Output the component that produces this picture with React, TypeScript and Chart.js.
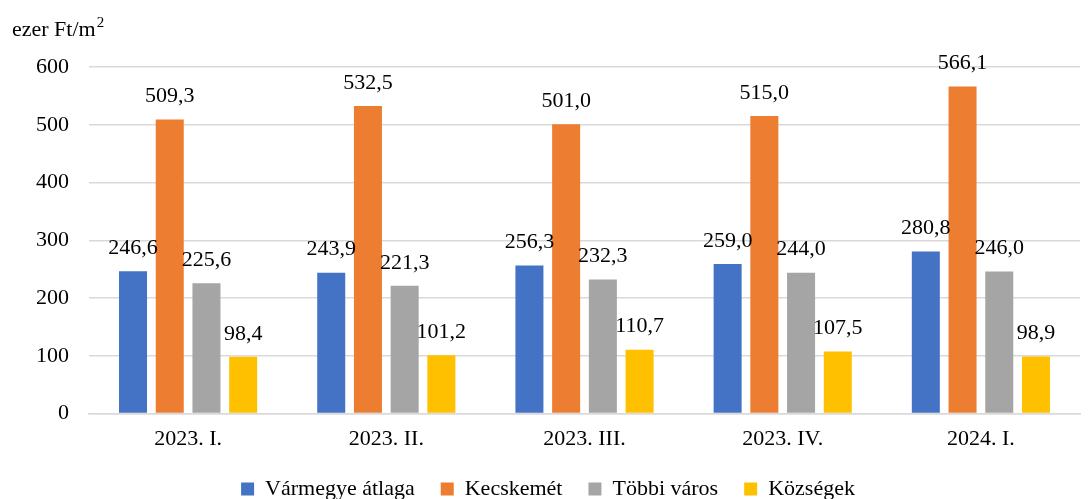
import React, { useEffect, useRef } from "react";
import { Chart, registerables } from "chart.js";

Chart.register(...registerables);

const categories = ["2023. I.", "2023. II.", "2023. III.", "2023. IV.", "2024. I."];
const seriesNames = ["Vármegye átlaga", "Kecskemét", "Többi város", "Községek"];
const varmegye = [246.6, 243.9, 256.3, 259.0, 280.8];
const kecskemet = [509.3, 532.5, 501.0, 515.0, 566.1];
const tobbiVaros = [225.6, 221.3, 232.3, 244.0, 246.0];
const kozsegek = [98.4, 101.2, 110.7, 107.5, 98.9];
const colors = ["#4472C4", "#ED7D31", "#A5A5A5", "#FFC000"];
const yTitleBase = "ezer Ft/m";
const yTitleSup = "2";

const FONT = "'Liberation Serif', 'DejaVu Serif', serif";
const FS = 22;

const labelPlugin = {
  id: "valueLabels",
  afterDatasetsDraw(chart: any) {
    const ctx = chart.ctx;
    ctx.save();
    ctx.font = `${FS}px ${FONT}`;
    ctx.fillStyle = "#000";
    ctx.textAlign = "center";
    ctx.textBaseline = "middle";
    chart.data.datasets.forEach((ds: any, i: number) => {
      const meta = chart.getDatasetMeta(i);
      meta.data.forEach((bar: any, j: number) => {
        const v = ds.data[j] as number;
        const txt = v.toFixed(1).replace(".", ",");
        ctx.fillText(txt, bar.x, bar.y - 23);
      });
    });
    ctx.restore();
  },
};

const titlePlugin = {
  id: "yTitle",
  afterDraw(chart: any) {
    const ctx = chart.ctx;
    ctx.save();
    ctx.font = `${FS}px ${FONT}`;
    ctx.fillStyle = "#000";
    ctx.textAlign = "left";
    ctx.textBaseline = "alphabetic";
    const baseY = 36;
    ctx.fillText(yTitleBase, 12, baseY);
    const w = ctx.measureText(yTitleBase).width;
    ctx.font = `15px ${FONT}`;
    ctx.fillText(yTitleSup, 12 + w + 1, baseY - 9);
    ctx.restore();
  },
};

export default function App() {
  const ref = useRef<HTMLCanvasElement | null>(null);
  useEffect(() => {
    if (!ref.current) return;
    const data = [varmegye, kecskemet, tobbiVaros, kozsegek];
    const chart = new Chart(ref.current, {
      type: "bar",
      data: {
        labels: categories,
        datasets: seriesNames.map((name, i) => ({
          label: name,
          data: data[i],
          backgroundColor: colors[i],
          categoryPercentage: 0.741,
          barPercentage: 0.763,
        })),
      },
      options: {
        animation: false,
        responsive: false,
        layout: { padding: { top: 67, right: 8, left: 16, bottom: -11 } },
        plugins: {
          legend: {
            position: "bottom",
            labels: {
              font: { family: FONT, size: FS },
              color: "#000",
              boxWidth: 13,
              boxHeight: 13,
              padding: 26,
            },
          },
          tooltip: { enabled: false },
        },
        scales: {
          x: {
            grid: { display: false },
            border: { color: "#D9D9D9", width: 1.5 },
            ticks: { font: { family: FONT, size: FS }, color: "#000", padding: 4 },
            afterFit: (scale: any) => {
              scale.height -= 4;
            },
          },
          y: {
            min: 0,
            max: 600,
            ticks: {
              stepSize: 100,
              font: { family: FONT, size: FS },
              color: "#000",
              padding: 20,
            },
            grid: { color: "#D9D9D9", lineWidth: 1.5, drawTicks: false },
            border: { display: false },
          },
        },
      },
      plugins: [labelPlugin, titlePlugin],
    });
    return () => chart.destroy();
  }, []);
  return (
    <div style={{ position: "fixed", left: 0, top: 0, width: 1088, height: 499, background: "#fff" }}>
      <canvas ref={ref} width={1088} height={499} style={{ width: 1088, height: 499 }} />
    </div>
  );
}
